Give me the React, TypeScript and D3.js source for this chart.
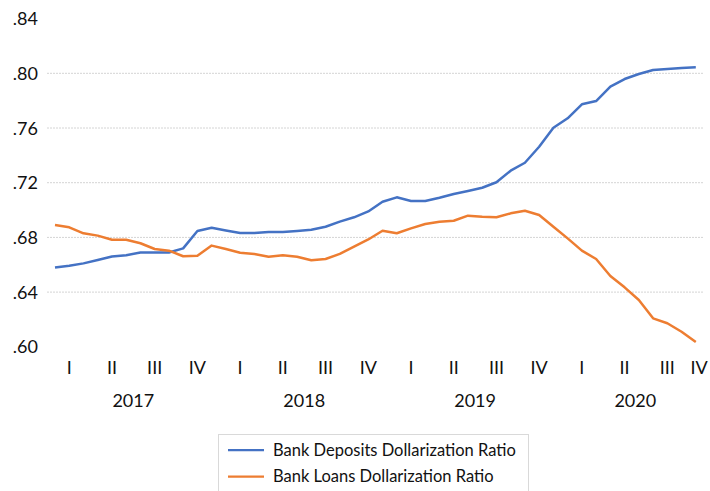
import { useEffect, useRef } from 'react'
import * as d3 from 'd3'

// monthly, Jan 2017 - Oct 2020
const deposits = [
  0.658, 0.6593, 0.661, 0.6635, 0.666, 0.667, 0.669, 0.669, 0.669, 0.672, 0.6847, 0.687,
  0.685, 0.6832, 0.6832, 0.684, 0.684, 0.6847, 0.6856, 0.6878, 0.6915, 0.6947, 0.699, 0.7061,
  0.7093, 0.7066, 0.7066, 0.709, 0.7117, 0.7139, 0.7163, 0.7203, 0.7288, 0.7346, 0.7463, 0.7602,
  0.7671, 0.7773, 0.7797, 0.7902, 0.7958, 0.7995, 0.8024, 0.8031, 0.8039, 0.8044,
]
const loans = [
  0.689, 0.6874, 0.683, 0.6813, 0.6783, 0.6783, 0.6757, 0.6715, 0.6703, 0.6662, 0.6666, 0.674,
  0.6715, 0.6688, 0.6679, 0.6659, 0.6669, 0.6659, 0.6633, 0.6642, 0.6679, 0.6732, 0.6785, 0.6849,
  0.683, 0.6866, 0.6898, 0.6915, 0.6922, 0.6959, 0.6951, 0.6947, 0.6976, 0.6995, 0.6964, 0.6878,
  0.6793, 0.6703, 0.6642, 0.6518, 0.6435, 0.6342, 0.6208, 0.6172, 0.611, 0.6035,
]
const years = ['2017', '2018', '2019', '2020']
const quarters = ['I', 'II', 'III', 'IV']
const yTicks = [0.6, 0.64, 0.68, 0.72, 0.76, 0.8, 0.84]
const seriesNames = ['Bank Deposits Dollarization Ratio', 'Bank Loans Dollarization Ratio']
const colors = ['#4472C4', '#ED7D31']

const W = 710
const H = 491
const font = 'Lato, Carlito, sans-serif'

export default function App() {
  const svgRef = useRef<SVGSVGElement>(null)

  useEffect(() => {
    if (!svgRef.current) return
    const svg = d3.select(svgRef.current)
    svg.selectAll('*').remove()

    // month index -> pixel; the chart is cut at the right edge
    const x = d3.scaleLinear().domain([0, 45]).range([55, 695.8])
    const y = d3.scaleLinear().domain([0.6, 0.84]).range([346.8, 18.6])
    const gridLeft = 47
    const gridRight = 704

    // gridlines (none at .60 / .84)
    svg.append('g')
      .selectAll('line')
      .data(yTicks.filter(t => t > 0.61 && t < 0.83))
      .enter()
      .append('line')
      .attr('x1', gridLeft)
      .attr('x2', gridRight)
      .attr('y1', d => y(d))
      .attr('y2', d => y(d))
      .attr('stroke', '#d4d4d4')
      .attr('stroke-width', 1)
      .attr('stroke-dasharray', '2 1')

    // y labels
    svg.append('g')
      .selectAll('text')
      .data(yTicks)
      .enter()
      .append('text')
      .attr('x', 38)
      .attr('y', d => y(d) + 6.5)
      .attr('text-anchor', 'end')
      .style('font-family', font)
      .style('font-size', '18px')
      .style('fill', '#111')
      .text(d => d3.format('.2f')(d).replace(/^0/, ''))

    // quarter labels
    const qData = years.flatMap((yr, yi) => quarters.map((q, qi) => ({ q, m: yi * 12 + qi * 3 + 1 })))
    svg.append('g')
      .selectAll('text')
      .data(qData)
      .enter()
      .append('text')
      .attr('x', d => Math.min(x(d.m), W - 11))
      .attr('y', 373.5)
      .attr('text-anchor', 'middle')
      .style('font-family', font)
      .style('font-size', '18px')
      .style('fill', '#111')
      .text(d => d.q)

    // year labels, centered on visible part of each year
    svg.append('g')
      .selectAll('text')
      .data(years)
      .enter()
      .append('text')
      .attr('x', (_, i) => {
        const a = x(i * 12 - 0.5)
        const b = Math.min(x(i * 12 + 11.5), W)
        return (a + b) / 2
      })
      .attr('y', 406.5)
      .attr('text-anchor', 'middle')
      .style('font-family', font)
      .style('font-size', '18px')
      .style('fill', '#111')
      .text(d => d)

    // lines
    const line = d3.line<number>()
      .x((_, i) => x(i))
      .y(d => y(d))
    ;[deposits, loans].forEach((s, i) => {
      svg.append('path')
        .datum(s)
        .attr('d', line)
        .attr('fill', 'none')
        .attr('stroke', colors[i])
        .attr('stroke-width', 2.5)
        .attr('stroke-linejoin', 'round')
    })

    // legend
    const lg = svg.append('g')
    lg.append('rect')
      .attr('x', 218.5)
      .attr('y', 434.5)
      .attr('width', 310)
      .attr('height', 60)
      .attr('fill', '#fff')
      .attr('stroke', '#d9d9d9')
    seriesNames.forEach((name, i) => {
      const ly = 450 + i * 26.5
      lg.append('line')
        .attr('x1', 228)
        .attr('x2', 264)
        .attr('y1', ly)
        .attr('y2', ly)
        .attr('stroke', colors[i])
        .attr('stroke-width', 2.25)
      lg.append('text')
        .attr('x', 273)
        .attr('y', ly + 5.5)
        .style('font-family', font)
        .style('font-size', '16.5px')
        .style('fill', '#111')
        .text(name)
    })
  }, [])

  return (
    <svg
      ref={svgRef}
      width={W}
      height={H}
      style={{ position: 'absolute', left: 0, top: 0, background: '#fff' }}
    />
  )
}
